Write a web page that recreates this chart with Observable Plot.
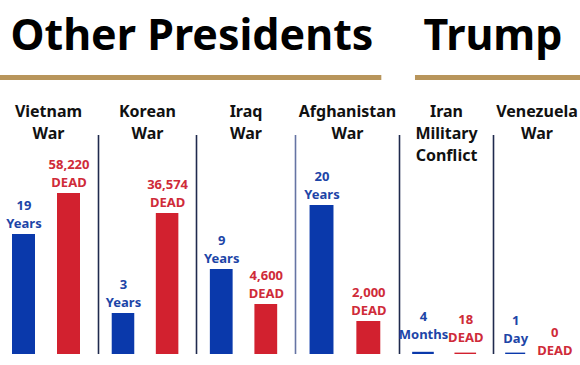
<!DOCTYPE html>
<html>
<head>
<meta charset="utf-8">
<script src="https://cdn.jsdelivr.net/npm/d3@7"></script>
<script src="https://cdn.jsdelivr.net/npm/@observablehq/plot@0.6"></script>
<style>
  html, body { margin: 0; padding: 0; background: #fff; }
  #chart { width: 580px; height: 365px; overflow: hidden; }
  #chart svg { display: block; }
</style>
</head>
<body>
<div id="chart"></div>
<script>
// ---- data ----
const groups = ["Other Presidents", "Trump"];
const wars = ["Vietnam\nWar", "Korean\nWar", "Iraq\nWar", "Afghanistan\nWar", "Iran\nMilitary\nConflict", "Venezuela\nWar"];
const durationValues = ["19", "3", "9", "20", "4", "1"];
const durationUnits = ["Years", "Years", "Years", "Years", "Months", "Day"];
const deathValues = ["58,220", "36,574", "4,600", "2,000", "18", "0"];
// bar heights as drawn in the picture (illustrative, 0–100 units)
const durationBarLevel = [60, 20.5, 42.5, 74.5, 1.1, 0.7];
const deathBarLevel = [80.5, 70.5, 25, 16.5, 0.7, 0];

// ---- styles ----
const BLUE = "#0a39ab", RED = "#d2212f";
const BLUE_TEXT = "#1d45a7", RED_TEXT = "#cf2b39";
const GOLD = "#b8955b";
const FONT = "Noto Sans, sans-serif";

const bars = [];
wars.forEach((w, i) => {
  bars.push({i, kind: "duration", level: durationBarLevel[i], label: durationValues[i] + "\n" + durationUnits[i]});
  bars.push({i, kind: "death", level: deathBarLevel[i], label: deathValues[i] + "\nDEAD"});
});
const offset = k => k === "duration" ? -0.245 : 0.205;
const half = 0.115;
const labelLevel = d => d.level >= 5 ? d.level
  : d.level === 0 ? -3.6
  : d.kind === "death" ? 2.6
  : d.level >= 1 ? 4.2 : 2.2;

const warData = wars.map((w, i) => ({i, w}));
const separators = [0.5, 1.5, 2.5, 3.5, 4.5];

const chart = Plot.plot({
  width: 580,
  height: 365,
  marginLeft: 0,
  marginRight: 0,
  marginTop: 154,
  marginBottom: 11,
  style: {fontFamily: FONT, background: "#fff", overflow: "visible"},
  x: {type: "linear", domain: [-0.5, 0.5, 1.5, 2.5, 3.5, 4.5, 5.5], range: [-2, 98, 196, 295, 399, 493, 580], axis: null},
  y: {domain: [0, 100], axis: null},
  marks: [
    // group titles
    Plot.text([groups[0]], {x: () => -0.5, text: d => d, frameAnchor: "top", dy: -105, lineAnchor: "bottom", textAnchor: "start", dx: 12, fontSize: 43, fontWeight: "bold", fill: "#000"}),
    Plot.text([groups[1]], {x: () => 3.5, text: d => d, frameAnchor: "top", dy: -105, lineAnchor: "bottom", textAnchor: "start", dx: 24, fontSize: 43, fontWeight: "bold", fill: "#000"}),
    // gold underlines
    Plot.ruleY([0], {x1: -0.5, x2: 3.33, dy: -277, stroke: GOLD, strokeWidth: 5}),
    Plot.ruleY([0], {x1: 3.67, x2: 5.5, dy: -277, stroke: GOLD, strokeWidth: 5}),
    // column separators
    Plot.ruleX(separators, {y1: 0, y2: 109.5, stroke: d => d === 2.5 ? "#6574a3" : "#1f2a4d", strokeWidth: 1.6}),
    // column titles
    Plot.text(warData, {x: "i", text: "w", frameAnchor: "top", dy: -53, lineAnchor: "top", lineHeight: 1.38, fontSize: 16, fontWeight: "bold", fill: "#111"}),
    // bars
    Plot.rectY(bars.filter(d => d.level > 0), {
      x1: d => d.i + offset(d.kind) - half,
      x2: d => d.i + offset(d.kind) + half,
      y: "level",
      fill: d => d.kind === "duration" ? BLUE : RED
    }),
    // value labels
    Plot.text(bars, {
      x: d => d.i + offset(d.kind),
      y: labelLevel,
      text: "label",
      lineAnchor: "bottom",
      lineHeight: 1.38,
      dy: -7,
      fontSize: 13,
      fontWeight: "bold",
      fill: d => d.kind === "duration" ? BLUE_TEXT : RED_TEXT
    })
  ]
});
document.getElementById("chart").append(chart);
</script>
</body>
</html>
